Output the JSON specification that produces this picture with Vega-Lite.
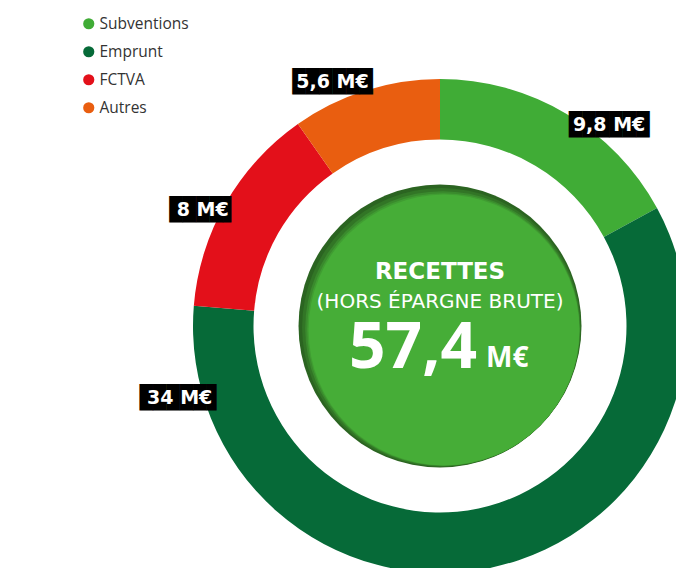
{
  "$schema": "https://vega.github.io/schema/vega-lite/v6.json",
  "width": 472,
  "height": 484,
  "autosize": {"type": "none"},
  "padding": {"left": 204, "top": 84, "right": 0, "bottom": 0},
  "background": "white",
  "config": {
    "view": {"stroke": null},
    "locale": {"number": {"decimal": ",", "thousands": " ", "grouping": [3], "currency": ["", " M€"]}}
  },
  "data": {"values": [
    {"category": "Subventions", "value": 9.8, "rank": 1},
    {"category": "Emprunt", "value": 34, "rank": 2},
    {"category": "FCTVA", "value": 8, "rank": 3},
    {"category": "Autres", "value": 5.6, "rank": 4}
  ]},
  "layer": [
    {
      "mark": {"type": "arc", "outerRadius": 247, "innerRadius": 186.5},
      "encoding": {
        "theta": {"field": "value", "type": "quantitative", "stack": true},
        "order": {"field": "rank", "type": "quantitative"},
        "color": {
          "field": "category", "type": "nominal",
          "scale": {"domain": ["Subventions", "Emprunt", "FCTVA", "Autres"], "range": ["#40ac36", "#066a38", "#e3101a", "#e95e10"]},
          "legend": {
            "title": null, "orient": "none", "legendX": -123, "legendY": -68,
            "symbolType": "circle", "symbolSize": 125, "symbolStrokeWidth": 0,
            "labelFont": "Open Sans", "labelFontSize": 15.5, "labelColor": "#333333",
            "rowPadding": 11, "labelOffset": 3, "padding": 0
          }
        }
      }
    },
    {
      "mark": {
        "type": "text", "font": "DejaVu Sans Mono", "fontSize": 22.3, "fill": "black",
        "align": "center", "baseline": "middle",
        "text": {"expr": "datum.category === 'FCTVA' ? '████▋' : datum.category === 'Emprunt' ? '█████▊' : '██████'"},
        "radius": {"expr": "datum.category === 'Subventions' ? 263 : datum.category === 'Emprunt' ? 270 : datum.category === 'FCTVA' ? 264 : 267"},
        "thetaOffset": {"expr": "datum.category === 'Subventions' ? 0.162 : datum.category === 'Emprunt' ? 1.51 : datum.category === 'FCTVA' ? -0.066 : -0.108"}
      },
      "encoding": {
        "theta": {"field": "value", "type": "quantitative", "stack": true},
        "order": {"field": "rank", "type": "quantitative"},
        "detail": {"field": "category", "type": "nominal"}
      }
    },
    {
      "mark": {
        "type": "text", "font": "DejaVu Sans", "fontWeight": "bold", "fontSize": 19, "fill": "white",
        "align": "center", "baseline": "middle",
        "radius": {"expr": "datum.category === 'Subventions' ? 263 : datum.category === 'Emprunt' ? 270 : datum.category === 'FCTVA' ? 264 : 267"},
        "thetaOffset": {"expr": "datum.category === 'Subventions' ? 0.162 : datum.category === 'Emprunt' ? 1.51 : datum.category === 'FCTVA' ? -0.066 : -0.108"}
      },
      "encoding": {
        "theta": {"field": "value", "type": "quantitative", "stack": true},
        "order": {"field": "rank", "type": "quantitative"},
        "detail": {"field": "category", "type": "nominal"},
        "text": {"field": "value", "type": "quantitative", "format": "$~g"}
      }
    },
    {
      "data": {"values": [{"titre": "RECETTES", "sous": "(HORS ÉPARGNE BRUTE)", "total": 57.4, "unite": "M€"}]},
      "encoding": {"theta": {"field": "total", "type": "quantitative", "stack": true}},
      "layer": [
        {"mark": {"type": "arc", "outerRadius": 141.5, "fill": "#2b6421"}},
        {"mark": {"type": "arc", "outerRadius": 139.3, "fill": "#327526", "xOffset": 1.4, "yOffset": 1.4}},
        {"mark": {"type": "arc", "outerRadius": 137.4, "fill": "#3a8a2d", "xOffset": 2.6, "yOffset": 2.6}},
        {"mark": {"type": "arc", "outerRadius": 136.2, "fill": "#409d32", "xOffset": 3.4, "yOffset": 3.4}},
        {"mark": {"type": "arc", "outerRadius": 135.4, "fill": "#46ad37", "xOffset": 4, "yOffset": 4}},
        {
          "mark": {"type": "text", "font": "DejaVu Sans", "fontWeight": "bold", "fontSize": 23, "fill": "white", "align": "center", "baseline": "middle", "dy": -54},
          "encoding": {"theta": null, "text": {"field": "titre", "type": "nominal"}}
        },
        {
          "mark": {"type": "text", "font": "DejaVu Sans", "fontSize": 20, "fill": "white", "align": "center", "baseline": "middle", "dy": -24},
          "encoding": {"theta": null, "text": {"field": "sous", "type": "nominal"}}
        },
        {
          "mark": {"type": "text", "font": "Open Sans", "fontWeight": "bold", "fontSize": 64, "fill": "white", "align": "right", "baseline": "alphabetic", "dx": 37, "dy": 42},
          "encoding": {"theta": null, "text": {"field": "total", "type": "quantitative", "format": ".1f"}}
        },
        {
          "mark": {"type": "text", "font": "Open Sans", "fontWeight": "bold", "fontSize": 28, "fill": "white", "align": "left", "baseline": "alphabetic", "dx": 46, "dy": 41},
          "encoding": {"theta": null, "text": {"field": "unite", "type": "nominal"}}
        }
      ]
    }
  ]
}
